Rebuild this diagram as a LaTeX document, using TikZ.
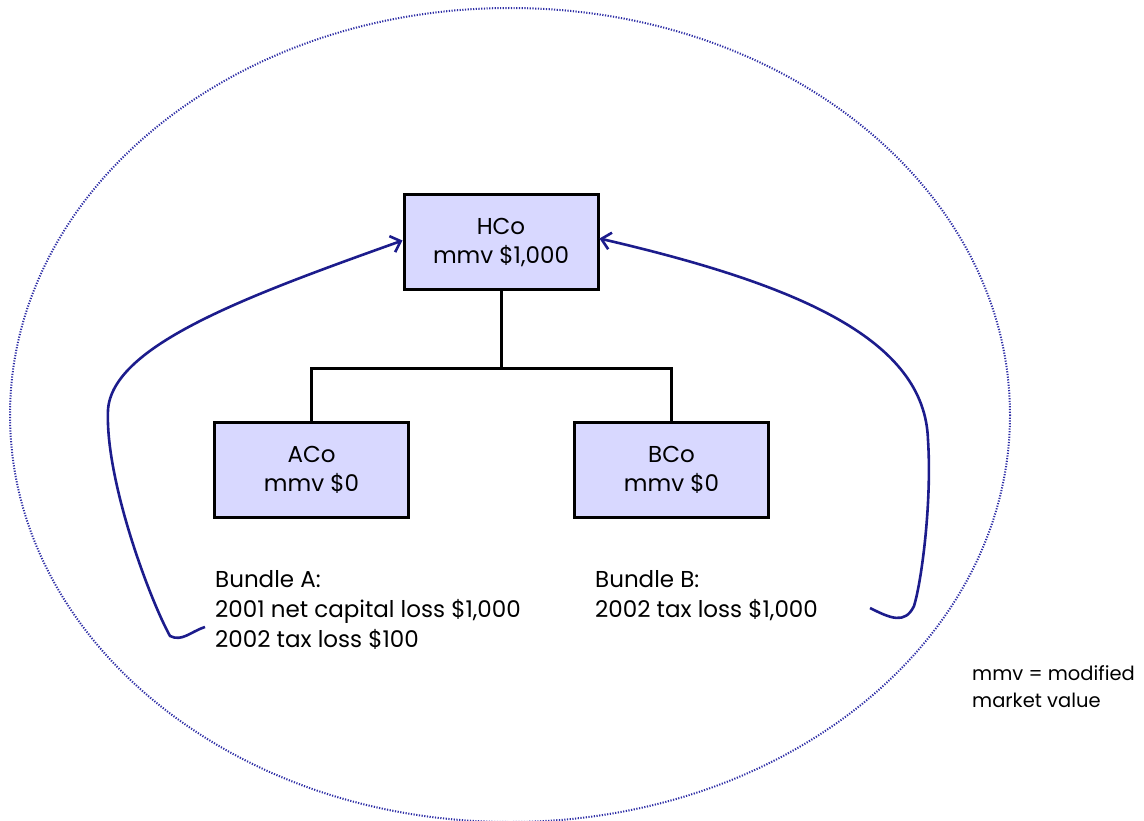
\documentclass[tikz,border=0pt]{standalone}
\usepackage{fontspec}
\setmainfont{Poppins}
\usepackage{tikz}
\usetikzlibrary{arrows.meta}
\usepackage{xcolor}
\definecolor{LightLavender}{RGB}{216, 216, 255}
\definecolor{NavyLine}{RGB}{28, 28, 140}
\definecolor{DotBlue}{RGB}{45, 45, 165}

\begin{document}
\begin{tikzpicture}[x = 1pt, y = -1pt,
        company/.style = {draw, line width = 3pt, fill = LightLavender, minimum width = 194pt,
            minimum height = 95pt, align = center, inner sep = 0pt},
        note/.style = {align = left, anchor = west, inner sep = 0pt},
        transfer/.style = {NavyLine, line width = 2.6pt, -{Straight Barb[length = 9pt, width = 17pt]}}]
            \fontsize{23}{30}\selectfont
            \useasboundingbox (0, 0) rectangle (1144, 821);
            %画虚线椭圆
            \draw[DotBlue, line width = 2pt, dash pattern = on 1.2pt off 1.5pt] (510, 415) ellipse [x radius = 500, y radius = 407];
            %画公司方框
            \node[company] (hco) at (501, 242.5) {HCo\\[-1pt]mmv \$1,000};
            \node[company] (aco) at (311.5, 470) {ACo\\[-1pt]mmv \$0};
            \node[company] (bco) at (671.5, 470) {BCo\\[-1pt]mmv \$0};
            %画连接线
            \coordinate (fork) at (501, 368);
            \draw[line width = 3pt] (hco.south) -- (fork);
            \draw[line width = 3pt] (aco.north) |- (fork) -| (bco.north);
            %标注资产包
            \node[note] (bundleA) at (215, 610) {Bundle A:\\2001 net capital loss \$1,000\\2002 tax loss \$100};
            \node[note] (bundleB) at (595, 596) {Bundle B:\\2002 tax loss \$1,000};
            \node[note, font = \fontsize{19.5}{27}\selectfont] (legend) at (972, 687) {mmv = modified\\market value};
            %画弯曲箭头
            \coordinate (endA) at (205, 627);
            \coordinate (endB) at (870, 608);
            \draw[transfer] (endA) .. controls (190, 632) and (182, 642) .. (170, 636)
                .. controls (150, 600) and (105, 480) .. (108, 410)
                .. controls (112, 345) and (250, 295) .. ([yshift = 2pt]hco.west);
            \draw[transfer] (endB) .. controls (890, 618) and (905, 625) .. (914, 606)
                .. controls (922, 580) and (932, 500) .. (928, 440)
                .. controls (925, 340) and (800, 285) .. ([yshift = 4pt]hco.east);
        \end{tikzpicture}
\end{document}
